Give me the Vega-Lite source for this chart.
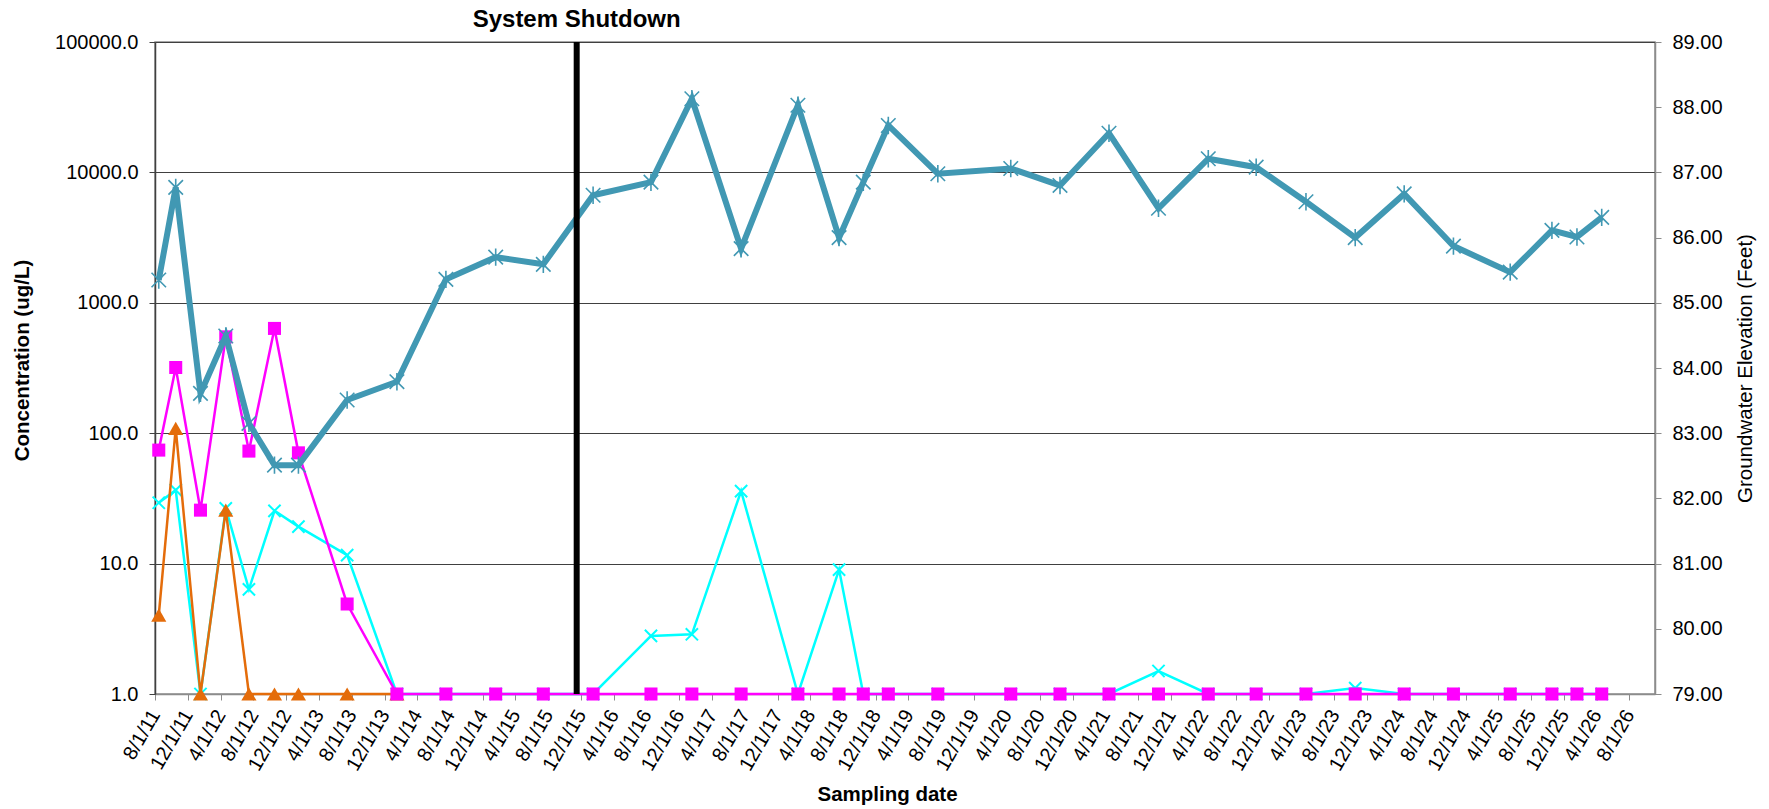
{
  "$schema": "https://vega.github.io/schema/vega-lite/v6.json",
  "width": 1500,
  "height": 652,
  "autosize": {"type": "none"},
  "padding": {"left": 155, "top": 42, "right": 114, "bottom": 115},
  "background": "white",
  "config": {
    "font": "Liberation Sans",
    "view": {"stroke": "#8c8c8c", "strokeWidth": 1.5},
    "axis": {"labelColor": "#000000", "titleColor": "#000000", "labelFontSize": 20, "titleFontSize": 20.5, "labelFont": "Liberation Sans", "titleFont": "Liberation Sans"}
  },
  "datasets": {
    "samples": [
      {"date": "2011-08-15", "gw_elev": 85.35, "cyan_conc": 29.3, "magenta_conc": 74.2, "orange_conc": 4.03},
      {"date": "2011-10-17", "gw_elev": 86.77, "cyan_conc": 36.6, "magenta_conc": 319, "orange_conc": 109},
      {"date": "2012-01-17", "gw_elev": 83.61, "cyan_conc": 1.0, "magenta_conc": 25.7, "orange_conc": 1.0},
      {"date": "2012-04-20", "gw_elev": 84.49, "cyan_conc": 26.5, "magenta_conc": 548, "orange_conc": 25.7},
      {"date": "2012-07-15", "gw_elev": 83.15, "cyan_conc": 6.35, "magenta_conc": 72.9, "orange_conc": 1.0},
      {"date": "2012-10-18", "gw_elev": 82.51, "cyan_conc": 25.4, "magenta_conc": 636, "orange_conc": 1.0},
      {"date": "2013-01-15", "gw_elev": 82.51, "cyan_conc": 19.2, "magenta_conc": 70.7, "orange_conc": 1.0},
      {"date": "2013-07-15", "gw_elev": 83.51, "cyan_conc": 11.6, "magenta_conc": 4.9, "orange_conc": 1.0},
      {"date": "2014-01-16", "gw_elev": 83.79, "cyan_conc": 1.0, "magenta_conc": 1.0, "orange_conc": 1.0},
      {"date": "2014-07-17", "gw_elev": 85.36, "cyan_conc": 1.0, "magenta_conc": 1.0},
      {"date": "2015-01-18", "gw_elev": 85.70, "cyan_conc": 1.0, "magenta_conc": 1.0},
      {"date": "2015-07-14", "gw_elev": 85.59, "cyan_conc": 1.0, "magenta_conc": 1.0},
      {"date": "2016-01-15", "gw_elev": 86.65, "cyan_conc": 1.0, "magenta_conc": 1.0},
      {"date": "2016-08-17", "gw_elev": 86.85, "cyan_conc": 2.79, "magenta_conc": 1.0},
      {"date": "2017-01-16", "gw_elev": 88.13, "cyan_conc": 2.87, "magenta_conc": 1.0},
      {"date": "2017-07-18", "gw_elev": 85.83, "cyan_conc": 36.0, "magenta_conc": 1.0},
      {"date": "2018-02-14", "gw_elev": 88.03, "cyan_conc": 1.0, "magenta_conc": 1.0},
      {"date": "2018-07-17", "gw_elev": 86.00, "cyan_conc": 9.0, "magenta_conc": 1.0},
      {"date": "2018-10-15", "gw_elev": 86.85, "cyan_conc": 1.0, "magenta_conc": 1.0},
      {"date": "2019-01-16", "gw_elev": 87.72, "cyan_conc": 1.0, "magenta_conc": 1.0},
      {"date": "2019-07-19", "gw_elev": 86.98, "cyan_conc": 1.0, "magenta_conc": 1.0},
      {"date": "2020-04-15", "gw_elev": 87.06, "cyan_conc": 1.0, "magenta_conc": 1.0},
      {"date": "2020-10-15", "gw_elev": 86.80, "cyan_conc": 1.0, "magenta_conc": 1.0},
      {"date": "2021-04-15", "gw_elev": 87.60, "cyan_conc": 1.0, "magenta_conc": 1.0},
      {"date": "2021-10-16", "gw_elev": 86.45, "cyan_conc": 1.5, "magenta_conc": 1.0},
      {"date": "2022-04-19", "gw_elev": 87.21, "cyan_conc": 1.0, "magenta_conc": 1.0},
      {"date": "2022-10-14", "gw_elev": 87.08, "cyan_conc": 1.0, "magenta_conc": 1.0},
      {"date": "2023-04-17", "gw_elev": 86.55, "cyan_conc": 1.0, "magenta_conc": 1.0},
      {"date": "2023-10-17", "gw_elev": 86.00, "cyan_conc": 1.11, "magenta_conc": 1.0},
      {"date": "2024-04-16", "gw_elev": 86.67, "cyan_conc": 1.0, "magenta_conc": 1.0},
      {"date": "2024-10-16", "gw_elev": 85.87, "cyan_conc": 1.0, "magenta_conc": 1.0},
      {"date": "2025-05-15", "gw_elev": 85.47, "cyan_conc": 1.0, "magenta_conc": 1.0},
      {"date": "2025-10-17", "gw_elev": 86.11, "cyan_conc": 1.0, "magenta_conc": 1.0},
      {"date": "2026-01-18", "gw_elev": 86.01, "cyan_conc": 1.0, "magenta_conc": 1.0},
      {"date": "2026-04-20", "gw_elev": 86.31, "cyan_conc": 1.0, "magenta_conc": 1.0}
    ],
    "events": [
      {"date": "2015-11-15", "label": "System Shutdown", "top": 100000, "bottom": 1}
    ]
  },
  "data": {"name": "samples"},
  "encoding": {
    "x": {
      "field": "date",
      "type": "temporal",
      "scale": {"domain": [{"year": 2011, "month": 8, "date": 1}, {"year": 2026, "month": 11, "date": 4}], "nice": false},
      "axis": {
        "values": [
          {"year": 2011, "month": 8, "date": 1}, {"year": 2011, "month": 12, "date": 1},
          {"year": 2012, "month": 4, "date": 1}, {"year": 2012, "month": 8, "date": 1}, {"year": 2012, "month": 12, "date": 1},
          {"year": 2013, "month": 4, "date": 1}, {"year": 2013, "month": 8, "date": 1}, {"year": 2013, "month": 12, "date": 1},
          {"year": 2014, "month": 4, "date": 1}, {"year": 2014, "month": 8, "date": 1}, {"year": 2014, "month": 12, "date": 1},
          {"year": 2015, "month": 4, "date": 1}, {"year": 2015, "month": 8, "date": 1}, {"year": 2015, "month": 12, "date": 1},
          {"year": 2016, "month": 4, "date": 1}, {"year": 2016, "month": 8, "date": 1}, {"year": 2016, "month": 12, "date": 1},
          {"year": 2017, "month": 4, "date": 1}, {"year": 2017, "month": 8, "date": 1}, {"year": 2017, "month": 12, "date": 1},
          {"year": 2018, "month": 4, "date": 1}, {"year": 2018, "month": 8, "date": 1}, {"year": 2018, "month": 12, "date": 1},
          {"year": 2019, "month": 4, "date": 1}, {"year": 2019, "month": 8, "date": 1}, {"year": 2019, "month": 12, "date": 1},
          {"year": 2020, "month": 4, "date": 1}, {"year": 2020, "month": 8, "date": 1}, {"year": 2020, "month": 12, "date": 1},
          {"year": 2021, "month": 4, "date": 1}, {"year": 2021, "month": 8, "date": 1}, {"year": 2021, "month": 12, "date": 1},
          {"year": 2022, "month": 4, "date": 1}, {"year": 2022, "month": 8, "date": 1}, {"year": 2022, "month": 12, "date": 1},
          {"year": 2023, "month": 4, "date": 1}, {"year": 2023, "month": 8, "date": 1}, {"year": 2023, "month": 12, "date": 1},
          {"year": 2024, "month": 4, "date": 1}, {"year": 2024, "month": 8, "date": 1}, {"year": 2024, "month": 12, "date": 1},
          {"year": 2025, "month": 4, "date": 1}, {"year": 2025, "month": 8, "date": 1}, {"year": 2025, "month": 12, "date": 1},
          {"year": 2026, "month": 4, "date": 1}, {"year": 2026, "month": 8, "date": 1}
        ],
        "format": "%-m/%-d/%y",
        "labelAngle": -60,
        "labelAlign": "right",
        "labelBaseline": "middle",
        "labelOverlap": false,
        "labelFlush": false,
        "labelBound": false,
        "labelPadding": 11,
        "tickSize": 6,
        "tickColor": "#8c8c8c",
        "domainColor": "#8c8c8c",
        "domainWidth": 1.5,
        "grid": false,
        "title": "Sampling date",
        "titleFontWeight": "bold",
        "titleX": 732,
        "titleY": 106,
        "titleBaseline": "alphabetic",
        "titleAlign": "center"
      }
    }
  },
  "layer": [
    {
      "layer": [
        {
          "mark": {"type": "line", "color": "#00ffff", "strokeWidth": 2.5, "point": {"shape": "M-1,-1L1,1M-1,1L1,-1", "filled": false, "size": 150, "strokeWidth": 2, "color": "#00ffff"}},
          "encoding": {
            "y": {"field": "cyan_conc", "type": "quantitative", "title": "Concentration (ug/L)",
              "scale": {"type": "log", "domain": [1, 100000], "nice": false},
              "axis": {"orient": "left", "values": [1, 10, 100, 1000, 10000, 100000], "format": ".1f", "grid": true, "gridColor": "#404040", "gridWidth": 1, "tickSize": 6, "tickColor": "#404040", "domainColor": "#404040", "domainWidth": 1.5, "labelPadding": 11, "titleFontWeight": "bold", "titleAngle": 270, "titleX": -127, "titleY": 318, "titleBaseline": "alphabetic", "titleAlign": "center"}}
          }
        },
        {
          "transform": [{"filter": "isValid(datum.orange_conc)"}],
          "mark": {"type": "line", "color": "#e46c0a", "strokeWidth": 2.5, "point": {"shape": "triangle-up", "filled": true, "size": 230, "color": "#e46c0a"}},
          "encoding": {
            "y": {"field": "orange_conc", "type": "quantitative", "title": "Concentration (ug/L)",
              "scale": {"type": "log", "domain": [1, 100000], "nice": false},
              "axis": {"orient": "left", "values": [1, 10, 100, 1000, 10000, 100000], "format": ".1f", "grid": true, "gridColor": "#404040", "gridWidth": 1, "tickSize": 6, "tickColor": "#404040", "domainColor": "#404040", "domainWidth": 1.5, "labelPadding": 11, "titleFontWeight": "bold", "titleAngle": 270, "titleX": -127, "titleY": 318, "titleBaseline": "alphabetic", "titleAlign": "center"}}
          }
        },
        {
          "mark": {"type": "line", "color": "#ff00ff", "strokeWidth": 2.5, "point": {"shape": "square", "filled": true, "size": 170, "color": "#ff00ff"}},
          "encoding": {
            "y": {"field": "magenta_conc", "type": "quantitative", "title": "Concentration (ug/L)",
              "scale": {"type": "log", "domain": [1, 100000], "nice": false},
              "axis": {"orient": "left", "values": [1, 10, 100, 1000, 10000, 100000], "format": ".1f", "grid": true, "gridColor": "#404040", "gridWidth": 1, "tickSize": 6, "tickColor": "#404040", "domainColor": "#404040", "domainWidth": 1.5, "labelPadding": 11, "titleFontWeight": "bold", "titleAngle": 270, "titleX": -127, "titleY": 318, "titleBaseline": "alphabetic", "titleAlign": "center"}}
          }
        }
      ]
    },
    {
      "mark": {"type": "line", "color": "#4198b3", "strokeWidth": 6, "point": {"shape": "M-1,-1L1,1M-1,1L1,-1M0,-1.2L0,1.2", "filled": false, "size": 210, "strokeWidth": 1.6, "color": "#4198b3"}},
      "encoding": {
        "y": {"field": "gw_elev", "type": "quantitative", "title": "Groundwater Elevation (Feet)",
          "scale": {"domain": [79, 89], "nice": false, "zero": false},
          "axis": {"orient": "right", "values": [79, 80, 81, 82, 83, 84, 85, 86, 87, 88, 89], "format": ".2f", "grid": false, "tickSize": 6, "tickColor": "#8c8c8c", "domainColor": "#8c8c8c", "domainWidth": 1.5, "labelPadding": 11, "titleFontWeight": "normal", "titleAngle": 270, "titleX": 96, "titleY": 326, "titleBaseline": "alphabetic", "titleAlign": "center"}}
      }
    },
    {
      "data": {"name": "events"},
      "layer": [
        {
          "mark": {"type": "rule", "color": "#000000", "strokeWidth": 6},
          "encoding": {
            "y": {"field": "top", "type": "quantitative", "scale": {"type": "log", "domain": [1, 100000], "nice": false}, "axis": null},
            "y2": {"field": "bottom"}
          }
        },
        {
          "mark": {"type": "text", "fontSize": 24, "fontWeight": "bold", "align": "center", "baseline": "alphabetic", "dy": -15, "color": "#000000"},
          "encoding": {
            "y": {"field": "top", "type": "quantitative", "scale": {"type": "log", "domain": [1, 100000], "nice": false}, "axis": null},
            "text": {"field": "label"}
          }
        }
      ]
    }
  ],
  "resolve": {"scale": {"y": "independent"}, "axis": {"y": "independent"}}
}
